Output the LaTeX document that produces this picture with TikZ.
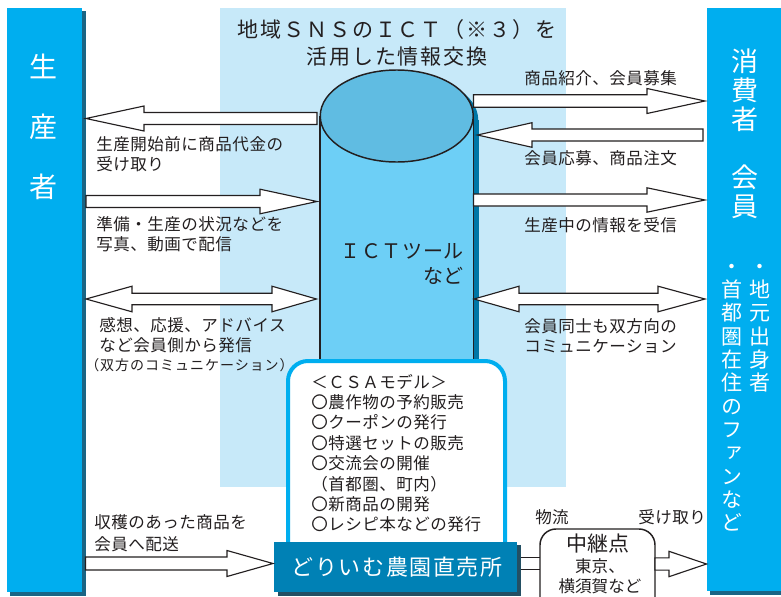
\documentclass[tikz,border=0pt]{standalone}
\usepackage{fontspec}
\setmainfont{Noto Sans CJK JP}
\newfontfamily\jpA[LetterSpace=3]{Noto Sans CJK JP}
\newfontfamily\jpB[LetterSpace=9]{Noto Sans CJK JP}
\newfontfamily\jpC[LetterSpace=7]{Noto Sans CJK JP}
\newfontfamily\jpV[RawFeature=+vert]{Noto Sans CJK JP}
\newcommand{\cjkstrut}{\rule[-0.12em]{0pt}{1em}}
\definecolor{barcyan}{HTML}{00AEEF}
\definecolor{barshadow}{HTML}{1A6585}
\definecolor{lightbg}{HTML}{C7E9F9}
\definecolor{cylbody}{HTML}{6DCFF6}
\definecolor{cyltop}{HTML}{60BCE2}
\definecolor{cylshadow}{HTML}{0076A6}
\definecolor{shopblue}{HTML}{0081B5}
\definecolor{shopshadow}{HTML}{234F63}
\definecolor{textgray}{HTML}{231F20}
\newcommand{\blockarrow}[6]{\draw[barrow] (#1,#4-#5) -- (#3,#4-#5) -- (#3,#4-#6) -- (#2,#4) -- (#3,#4+#6) -- (#3,#4+#5) -- (#1,#4+#5) -- cycle;}
\newcommand{\dblarrow}[7]{\draw[barrow] (#1,#5) -- (#3,#5-#7) -- (#3,#5-#6) -- (#4,#5-#6) -- (#4,#5-#7) -- (#2,#5) -- (#4,#5+#7) -- (#4,#5+#6) -- (#3,#5+#6) -- (#3,#5+#7) -- cycle;}
\tikzset{
  barrow/.style={fill=white, draw=textgray, line width=0.85pt, line join=miter},
  txt/.style={inner sep=0pt, text=textgray, execute at begin node=\cjkstrut, execute at end node=\cjkstrut},
  lbl/.style={txt, anchor=west, align=left, font=\jpA\fontsize{12.4}{15}\selectfont},
  bartext/.style={inner sep=0pt, text=white, align=center, execute at begin node=\cjkstrut, execute at end node=\cjkstrut},
}
\begin{document}
\begin{tikzpicture}[x=0.75pt,y=-0.75pt]
\useasboundingbox (0,0) rectangle (781,596);
\clip (0,0) rectangle (781,596);
\fill[white] (0,0) rectangle (781,596);
% light background
\fill[lightbg] (220,8) rectangle (565.5,487);
% producer bar
\fill[barshadow] (10,11) rectangle (85.5,595.5);
\fill[barcyan] (7,8) rectangle (82,592);
% consumer bar
\fill[barshadow] (710,11) rectangle (781,595);
\fill[barcyan] (707,8) rectangle (781,591);
% cylinder shadow
\fill[cylshadow] (325,120) rectangle (478.5,430);
\fill[cylshadow] (401.75,120) ellipse [x radius=57.375pt, y radius=34.5pt];
% cylinder body
\fill[cylbody] (320,116) rectangle (473.5,430);
\draw[textgray, line width=1.1pt] (320,116) -- (320,430) (473.5,116) -- (473.5,430);
\filldraw[fill=cyltop, draw=textgray, line width=1.1pt] (396.75,116) ellipse [x radius=57.375pt, y radius=34.5pt];
% left arrows
\blockarrow{317}{86}{144}{118.5}{6}{12.5}
\blockarrow{86}{317}{260}{201.5}{6}{12.3}
\dblarrow{86}{316.5}{132}{272}{299}{5.8}{12.8}
% right arrows
\blockarrow{473.5}{705}{647}{101}{6.2}{12.5}
\blockarrow{703}{477.5}{532}{135}{6}{12.3}
\blockarrow{473.5}{705}{647}{200}{6}{12.2}
\dblarrow{474}{705}{519}{658}{299}{5.8}{12.8}
% CSA box
\filldraw[fill=white, draw=barcyan, line width=3pt, rounded corners=15pt] (288,548) -- (288,361) -- (505,361) -- (505,548);
% shop box
\fill[shopshadow] (277.5,545) rectangle (520.5,595.5);
\fill[shopblue] (274,542) rectangle (517,592);
% connector shop -> relay
\fill[white] (520.5,557.8) rectangle (540,569.8);
\draw[textgray, line width=0.85pt] (520.5,557.8) -- (540,557.8) (520.5,569.8) -- (540,569.8);
% relay box
\filldraw[fill=white, draw=textgray, line width=1.1pt, rounded corners=12pt] (540,610) -- (540,529) -- (655,529) -- (655,610);
% relay -> consumers
\blockarrow{655}{706.5}{669}{564}{6.1}{12.7}
% bottom left arrow
\blockarrow{85.5}{273}{227}{563.5}{6.5}{13}

% ---- texts ----
\node[bartext, font=\fontsize{21}{45}\selectfont] (prod) at (43.5,127) {生\\産\\者};
\node[bartext, font=\fontsize{20.25}{21.75}\selectfont] (cons) at (745,91) {消\\費\\者};
\node[bartext, font=\fontsize{20.25}{21.75}\selectfont] (member) at (745,192.5) {会\\員};
\node[bartext, font=\jpV\fontsize{15.75}{17.5}\selectfont] (colR) at (760,328.5) {・\\地\\元\\出\\身\\者};
\node[bartext, font=\jpV\fontsize{15.75}{17.5}\selectfont] (colL) at (732,398.5) {・\\首\\都\\圏\\在\\住\\の\\フ\\ァ\\ン\\な\\ど};

\node[txt, align=center, font=\jpB\fontsize{15.75}{20.25}\selectfont] (title) at (397,43.5) {地域ＳＮＳのＩＣＴ（※３）を\\活用した情報交換};
\node[txt, align=right, anchor=east, font=\jpA\fontsize{15}{18.75}\selectfont] (ict) at (464,264.5) {ＩＣＴツール\\など};

\node[lbl] (l1) at (96,155) {生産開始前に商品代金の\\受け取り};
\node[lbl] (l2) at (96,235) {準備・生産の状況などを\\写真、動画で配信};
\node[lbl] (l3) at (99,335) {感想、応援、アドバイス\\など会員側から発信};
\node[lbl, font=\jpC\fontsize{10.5}{15}\selectfont] (l3b) at (85,365) {（双方のコミュニケーション）};
\node[lbl, font=\jpA\fontsize{12.4}{16.5}\selectfont] (l4) at (94,534) {収穫のあった商品を\\会員へ配送};

\node[lbl] (r1) at (524,78) {商品紹介、会員募集};
\node[lbl] (r2) at (524,158) {会員応募、商品注文};
\node[lbl] (r3) at (524,225) {生産中の情報を受信};
\node[lbl] (r4) at (524,337) {会員同士も双方向の\\コミュニケーション};

\node[lbl, font=\jpA\fontsize{12.4}{15.3}\selectfont] (csa) at (311,453.5) {＜ＣＳＡモデル＞\\〇農作物の予約販売\\〇クーポンの発行\\〇特選セットの販売\\〇交流会の開催\\（首都圏、町内）\\〇新商品の開発\\〇レシピ本などの発行};

\node[bartext, font=\jpC\fontsize{16.5}{20}\selectfont] (shop) at (397,567) {どりいむ農園直売所};

\node[txt, font=\fontsize{15.75}{18}\selectfont] (relay) at (597.5,544) {中継点};
\node[txt, align=center, font=\fontsize{12.4}{15}\selectfont] (relayplace) at (600,577) {東京、\\横須賀など};
\node[txt, font=\fontsize{12.4}{15}\selectfont] (logi) at (552,517) {物流};
\node[lbl] (recv) at (638,517) {受け取り};
\end{tikzpicture}
\end{document}
